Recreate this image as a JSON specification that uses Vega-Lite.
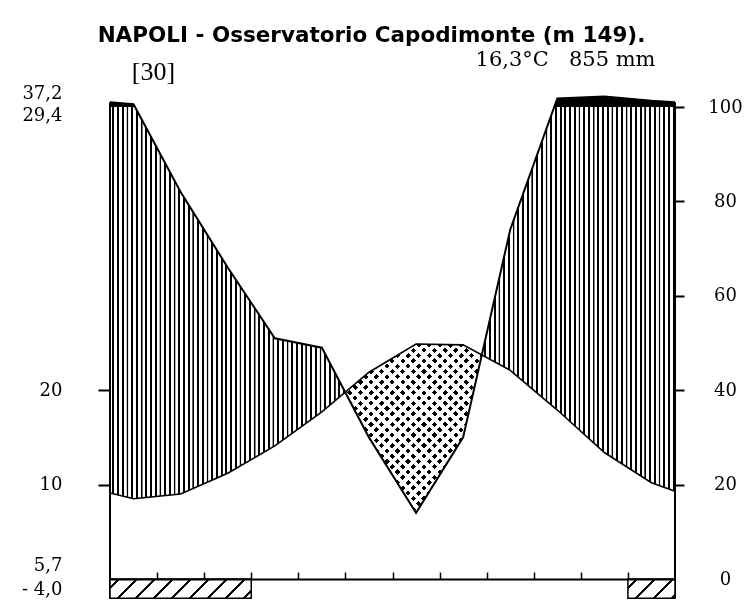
{
  "$schema": "https://vega.github.io/schema/vega-lite/v6.json",
  "width": 565,
  "height": 489,
  "autosize": "none",
  "padding": {"left": 110, "top": 90, "right": 74, "bottom": 22},
  "background": "white",
  "config": {"view": {"stroke": null}, "axis": {"grid": false}},
  "title": {"text": "NAPOLI - Osservatorio Capodimonte (m 149).", "font": "DejaVu Sans", "fontSize": 21.5, "fontWeight": "bold", "color": "black", "anchor": "middle", "frame": "group", "dx": -21, "dy": 17, "offset": 2, "baseline": "alphabetic"},
  "datasets": {
    "clima": [
      {"m": "bordo", "mese": 0.5, "t": 9.1, "p": 110},
      {"m": "gen", "mese": 1, "t": 8.5, "p": 106},
      {"m": "feb", "mese": 2, "t": 9.0, "p": 82},
      {"m": "mar", "mese": 3, "t": 11.2, "p": 66},
      {"m": "apr", "mese": 4, "t": 14.1, "p": 51},
      {"m": "mag", "mese": 5, "t": 17.7, "p": 49},
      {"m": "giu", "mese": 6, "t": 21.9, "p": 30},
      {"m": "lug", "mese": 7, "t": 24.9, "p": 14},
      {"m": "ago", "mese": 8, "t": 24.8, "p": 30},
      {"m": "set", "mese": 9, "t": 22.1, "p": 74},
      {"m": "ott", "mese": 10, "t": 17.9, "p": 118},
      {"m": "nov", "mese": 11, "t": 13.4, "p": 122},
      {"m": "dic", "mese": 12, "t": 10.2, "p": 113},
      {"m": "bordo", "mese": 12.5, "t": 9.3, "p": 110}
    ],
    "gelo": [
      {"mesi": "gen-mar", "inizio": 0.5, "fine": 3.5},
      {"mesi": "dic", "inizio": 11.5, "fine": 12.5}
    ]
  },
  "data": {"name": "clima"},
  "resolve": {"scale": {"y": "independent"}},
  "layer": [
    {
      "mark": {"type": "area", "fill": "black", "stroke": null},
      "encoding": {
        "x": {"field": "mese", "type": "quantitative", "scale": {"domain": [0.5, 12.5], "nice": false, "zero": false},
          "axis": {"orient": "bottom", "values": [1.5, 2.5, 3.5, 4.5, 5.5, 6.5, 7.5, 8.5, 9.5, 10.5, 11.5], "labels": false, "ticks": true, "tickSize": -7, "tickWidth": 1.5, "tickColor": "black", "domain": true, "domainColor": "black", "domainWidth": 2, "grid": false, "title": null, "zindex": 1}},
        "y": {"field": "p", "type": "quantitative", "scale": {"domain": [-4.449, 0, 100, 136], "range": [510, 489, 17, 0], "nice": false}, "axis": null},
        "y2": {"datum": 0}
      }
    },
    {
      "mark": {"type": "area", "fill": "white", "stroke": null, "blend": "difference"},
      "encoding": {
        "x": {"field": "mese", "type": "quantitative", "scale": {"domain": [0.5, 12.5], "nice": false, "zero": false},
          "axis": {"orient": "bottom", "values": [1.5, 2.5, 3.5, 4.5, 5.5, 6.5, 7.5, 8.5, 9.5, 10.5, 11.5], "labels": false, "ticks": true, "tickSize": -7, "tickWidth": 1.5, "tickColor": "black", "domain": true, "domainColor": "black", "domainWidth": 2, "grid": false, "title": null, "zindex": 1}},
        "y": {"field": "t", "type": "quantitative", "scale": {"domain": [-2.2246, 51.8], "range": [510, 0], "nice": false, "zero": false}, "axis": null},
        "y2": {"datum": 0}
      }
    },
    {
      "mark": {"type": "rule", "stroke": "white", "strokeWidth": 472, "strokeDash": [2.0, 2.708], "strokeCap": "butt"},
      "encoding": {
        "x": {"datum": 0.5, "type": "quantitative", "scale": {"domain": [0.5, 12.5], "nice": false, "zero": false},
          "axis": {"orient": "bottom", "values": [1.5, 2.5, 3.5, 4.5, 5.5, 6.5, 7.5, 8.5, 9.5, 10.5, 11.5], "labels": false, "ticks": true, "tickSize": -7, "tickWidth": 1.5, "tickColor": "black", "domain": true, "domainColor": "black", "domainWidth": 2, "grid": false, "title": null, "zindex": 1}},
        "x2": {"datum": 5.5},
        "y": {"datum": 25, "type": "quantitative", "scale": {"domain": [-2.2246, 51.8], "range": [510, 0], "nice": false, "zero": false}, "axis": null}
      }
    },
    {
      "mark": {"type": "rule", "stroke": "white", "strokeWidth": 472, "strokeDash": [2.0, 2.708], "strokeCap": "butt"},
      "encoding": {
        "x": {"datum": 8.4, "type": "quantitative", "scale": {"domain": [0.5, 12.5], "nice": false, "zero": false},
          "axis": {"orient": "bottom", "values": [1.5, 2.5, 3.5, 4.5, 5.5, 6.5, 7.5, 8.5, 9.5, 10.5, 11.5], "labels": false, "ticks": true, "tickSize": -7, "tickWidth": 1.5, "tickColor": "black", "domain": true, "domainColor": "black", "domainWidth": 2, "grid": false, "title": null, "zindex": 1}},
        "x2": {"datum": 12.5},
        "y": {"datum": 25, "type": "quantitative", "scale": {"domain": [-2.2246, 51.8], "range": [510, 0], "nice": false, "zero": false}, "axis": null}
      }
    },
    {
      "transform": [{"filter": "datum.mese >= 5 && datum.mese <= 9"}],
      "mark": {"type": "area", "stroke": null, "blend": "lighten",
        "fill": {"gradient": "linear", "x1": 0, "y1": 0, "x2": 0.879, "y2": 1.097, "stops": [
          {"offset": 0, "color": "#000"}, {"offset": 0.0125, "color": "#000"}, {"offset": 0.0125, "color": "#fff"}, {"offset": 0.025, "color": "#fff"},
          {"offset": 0.025, "color": "#000"}, {"offset": 0.0375, "color": "#000"}, {"offset": 0.0375, "color": "#fff"}, {"offset": 0.05, "color": "#fff"},
          {"offset": 0.05, "color": "#000"}, {"offset": 0.0625, "color": "#000"}, {"offset": 0.0625, "color": "#fff"}, {"offset": 0.075, "color": "#fff"},
          {"offset": 0.075, "color": "#000"}, {"offset": 0.0875, "color": "#000"}, {"offset": 0.0875, "color": "#fff"}, {"offset": 0.1, "color": "#fff"},
          {"offset": 0.1, "color": "#000"}, {"offset": 0.1125, "color": "#000"}, {"offset": 0.1125, "color": "#fff"}, {"offset": 0.125, "color": "#fff"},
          {"offset": 0.125, "color": "#000"}, {"offset": 0.1375, "color": "#000"}, {"offset": 0.1375, "color": "#fff"}, {"offset": 0.15, "color": "#fff"},
          {"offset": 0.15, "color": "#000"}, {"offset": 0.1625, "color": "#000"}, {"offset": 0.1625, "color": "#fff"}, {"offset": 0.175, "color": "#fff"},
          {"offset": 0.175, "color": "#000"}, {"offset": 0.1875, "color": "#000"}, {"offset": 0.1875, "color": "#fff"}, {"offset": 0.2, "color": "#fff"},
          {"offset": 0.2, "color": "#000"}, {"offset": 0.2125, "color": "#000"}, {"offset": 0.2125, "color": "#fff"}, {"offset": 0.225, "color": "#fff"},
          {"offset": 0.225, "color": "#000"}, {"offset": 0.2375, "color": "#000"}, {"offset": 0.2375, "color": "#fff"}, {"offset": 0.25, "color": "#fff"},
          {"offset": 0.25, "color": "#000"}, {"offset": 0.2625, "color": "#000"}, {"offset": 0.2625, "color": "#fff"}, {"offset": 0.275, "color": "#fff"},
          {"offset": 0.275, "color": "#000"}, {"offset": 0.2875, "color": "#000"}, {"offset": 0.2875, "color": "#fff"}, {"offset": 0.3, "color": "#fff"},
          {"offset": 0.3, "color": "#000"}, {"offset": 0.3125, "color": "#000"}, {"offset": 0.3125, "color": "#fff"}, {"offset": 0.325, "color": "#fff"},
          {"offset": 0.325, "color": "#000"}, {"offset": 0.3375, "color": "#000"}, {"offset": 0.3375, "color": "#fff"}, {"offset": 0.35, "color": "#fff"},
          {"offset": 0.35, "color": "#000"}, {"offset": 0.3625, "color": "#000"}, {"offset": 0.3625, "color": "#fff"}, {"offset": 0.375, "color": "#fff"},
          {"offset": 0.375, "color": "#000"}, {"offset": 0.3875, "color": "#000"}, {"offset": 0.3875, "color": "#fff"}, {"offset": 0.4, "color": "#fff"},
          {"offset": 0.4, "color": "#000"}, {"offset": 0.4125, "color": "#000"}, {"offset": 0.4125, "color": "#fff"}, {"offset": 0.425, "color": "#fff"},
          {"offset": 0.425, "color": "#000"}, {"offset": 0.4375, "color": "#000"}, {"offset": 0.4375, "color": "#fff"}, {"offset": 0.45, "color": "#fff"},
          {"offset": 0.45, "color": "#000"}, {"offset": 0.4625, "color": "#000"}, {"offset": 0.4625, "color": "#fff"}, {"offset": 0.475, "color": "#fff"},
          {"offset": 0.475, "color": "#000"}, {"offset": 0.4875, "color": "#000"}, {"offset": 0.4875, "color": "#fff"}, {"offset": 0.5, "color": "#fff"},
          {"offset": 0.5, "color": "#000"}, {"offset": 0.5125, "color": "#000"}, {"offset": 0.5125, "color": "#fff"}, {"offset": 0.525, "color": "#fff"},
          {"offset": 0.525, "color": "#000"}, {"offset": 0.5375, "color": "#000"}, {"offset": 0.5375, "color": "#fff"}, {"offset": 0.55, "color": "#fff"},
          {"offset": 0.55, "color": "#000"}, {"offset": 0.5625, "color": "#000"}, {"offset": 0.5625, "color": "#fff"}, {"offset": 0.575, "color": "#fff"},
          {"offset": 0.575, "color": "#000"}, {"offset": 0.5875, "color": "#000"}, {"offset": 0.5875, "color": "#fff"}, {"offset": 0.6, "color": "#fff"},
          {"offset": 0.6, "color": "#000"}, {"offset": 0.6125, "color": "#000"}, {"offset": 0.6125, "color": "#fff"}, {"offset": 0.625, "color": "#fff"},
          {"offset": 0.625, "color": "#000"}, {"offset": 0.6375, "color": "#000"}, {"offset": 0.6375, "color": "#fff"}, {"offset": 0.65, "color": "#fff"},
          {"offset": 0.65, "color": "#000"}, {"offset": 0.6625, "color": "#000"}, {"offset": 0.6625, "color": "#fff"}, {"offset": 0.675, "color": "#fff"},
          {"offset": 0.675, "color": "#000"}, {"offset": 0.6875, "color": "#000"}, {"offset": 0.6875, "color": "#fff"}, {"offset": 0.7, "color": "#fff"},
          {"offset": 0.7, "color": "#000"}, {"offset": 0.7125, "color": "#000"}, {"offset": 0.7125, "color": "#fff"}, {"offset": 0.725, "color": "#fff"},
          {"offset": 0.725, "color": "#000"}, {"offset": 0.7375, "color": "#000"}, {"offset": 0.7375, "color": "#fff"}, {"offset": 0.75, "color": "#fff"},
          {"offset": 0.75, "color": "#000"}, {"offset": 0.7625, "color": "#000"}, {"offset": 0.7625, "color": "#fff"}, {"offset": 0.775, "color": "#fff"},
          {"offset": 0.775, "color": "#000"}, {"offset": 0.7875, "color": "#000"}, {"offset": 0.7875, "color": "#fff"}, {"offset": 0.8, "color": "#fff"},
          {"offset": 0.8, "color": "#000"}, {"offset": 0.8125, "color": "#000"}, {"offset": 0.8125, "color": "#fff"}, {"offset": 0.825, "color": "#fff"},
          {"offset": 0.825, "color": "#000"}, {"offset": 0.8375, "color": "#000"}, {"offset": 0.8375, "color": "#fff"}, {"offset": 0.85, "color": "#fff"},
          {"offset": 0.85, "color": "#000"}, {"offset": 0.8625, "color": "#000"}, {"offset": 0.8625, "color": "#fff"}, {"offset": 0.875, "color": "#fff"},
          {"offset": 0.875, "color": "#000"}, {"offset": 0.8875, "color": "#000"}, {"offset": 0.8875, "color": "#fff"}, {"offset": 0.9, "color": "#fff"},
          {"offset": 0.9, "color": "#000"}, {"offset": 0.9125, "color": "#000"}, {"offset": 0.9125, "color": "#fff"}, {"offset": 0.925, "color": "#fff"},
          {"offset": 0.925, "color": "#000"}, {"offset": 0.9375, "color": "#000"}, {"offset": 0.9375, "color": "#fff"}, {"offset": 0.95, "color": "#fff"},
          {"offset": 0.95, "color": "#000"}, {"offset": 0.9625, "color": "#000"}, {"offset": 0.9625, "color": "#fff"}, {"offset": 0.975, "color": "#fff"},
          {"offset": 0.975, "color": "#000"}, {"offset": 0.9875, "color": "#000"}, {"offset": 0.9875, "color": "#fff"}, {"offset": 1, "color": "#fff"}
        ]}},
      "encoding": {
        "x": {"field": "mese", "type": "quantitative", "scale": {"domain": [0.5, 12.5], "nice": false, "zero": false},
          "axis": {"orient": "bottom", "values": [1.5, 2.5, 3.5, 4.5, 5.5, 6.5, 7.5, 8.5, 9.5, 10.5, 11.5], "labels": false, "ticks": true, "tickSize": -7, "tickWidth": 1.5, "tickColor": "black", "domain": true, "domainColor": "black", "domainWidth": 2, "grid": false, "title": null, "zindex": 1}},
        "y": {"field": "t", "type": "quantitative", "scale": {"domain": [-2.2246, 51.8], "range": [510, 0], "nice": false, "zero": false}, "axis": null},
        "y2": {"datum": 0}
      }
    },
    {
      "transform": [{"filter": "datum.mese >= 5 && datum.mese <= 9"}],
      "mark": {"type": "area", "stroke": null, "blend": "lighten",
        "fill": {"gradient": "linear", "x1": 0, "y1": 1, "x2": 0.879, "y2": -0.097, "stops": [
          {"offset": 0, "color": "#000"}, {"offset": 0.0125, "color": "#000"}, {"offset": 0.0125, "color": "#fff"}, {"offset": 0.025, "color": "#fff"},
          {"offset": 0.025, "color": "#000"}, {"offset": 0.0375, "color": "#000"}, {"offset": 0.0375, "color": "#fff"}, {"offset": 0.05, "color": "#fff"},
          {"offset": 0.05, "color": "#000"}, {"offset": 0.0625, "color": "#000"}, {"offset": 0.0625, "color": "#fff"}, {"offset": 0.075, "color": "#fff"},
          {"offset": 0.075, "color": "#000"}, {"offset": 0.0875, "color": "#000"}, {"offset": 0.0875, "color": "#fff"}, {"offset": 0.1, "color": "#fff"},
          {"offset": 0.1, "color": "#000"}, {"offset": 0.1125, "color": "#000"}, {"offset": 0.1125, "color": "#fff"}, {"offset": 0.125, "color": "#fff"},
          {"offset": 0.125, "color": "#000"}, {"offset": 0.1375, "color": "#000"}, {"offset": 0.1375, "color": "#fff"}, {"offset": 0.15, "color": "#fff"},
          {"offset": 0.15, "color": "#000"}, {"offset": 0.1625, "color": "#000"}, {"offset": 0.1625, "color": "#fff"}, {"offset": 0.175, "color": "#fff"},
          {"offset": 0.175, "color": "#000"}, {"offset": 0.1875, "color": "#000"}, {"offset": 0.1875, "color": "#fff"}, {"offset": 0.2, "color": "#fff"},
          {"offset": 0.2, "color": "#000"}, {"offset": 0.2125, "color": "#000"}, {"offset": 0.2125, "color": "#fff"}, {"offset": 0.225, "color": "#fff"},
          {"offset": 0.225, "color": "#000"}, {"offset": 0.2375, "color": "#000"}, {"offset": 0.2375, "color": "#fff"}, {"offset": 0.25, "color": "#fff"},
          {"offset": 0.25, "color": "#000"}, {"offset": 0.2625, "color": "#000"}, {"offset": 0.2625, "color": "#fff"}, {"offset": 0.275, "color": "#fff"},
          {"offset": 0.275, "color": "#000"}, {"offset": 0.2875, "color": "#000"}, {"offset": 0.2875, "color": "#fff"}, {"offset": 0.3, "color": "#fff"},
          {"offset": 0.3, "color": "#000"}, {"offset": 0.3125, "color": "#000"}, {"offset": 0.3125, "color": "#fff"}, {"offset": 0.325, "color": "#fff"},
          {"offset": 0.325, "color": "#000"}, {"offset": 0.3375, "color": "#000"}, {"offset": 0.3375, "color": "#fff"}, {"offset": 0.35, "color": "#fff"},
          {"offset": 0.35, "color": "#000"}, {"offset": 0.3625, "color": "#000"}, {"offset": 0.3625, "color": "#fff"}, {"offset": 0.375, "color": "#fff"},
          {"offset": 0.375, "color": "#000"}, {"offset": 0.3875, "color": "#000"}, {"offset": 0.3875, "color": "#fff"}, {"offset": 0.4, "color": "#fff"},
          {"offset": 0.4, "color": "#000"}, {"offset": 0.4125, "color": "#000"}, {"offset": 0.4125, "color": "#fff"}, {"offset": 0.425, "color": "#fff"},
          {"offset": 0.425, "color": "#000"}, {"offset": 0.4375, "color": "#000"}, {"offset": 0.4375, "color": "#fff"}, {"offset": 0.45, "color": "#fff"},
          {"offset": 0.45, "color": "#000"}, {"offset": 0.4625, "color": "#000"}, {"offset": 0.4625, "color": "#fff"}, {"offset": 0.475, "color": "#fff"},
          {"offset": 0.475, "color": "#000"}, {"offset": 0.4875, "color": "#000"}, {"offset": 0.4875, "color": "#fff"}, {"offset": 0.5, "color": "#fff"},
          {"offset": 0.5, "color": "#000"}, {"offset": 0.5125, "color": "#000"}, {"offset": 0.5125, "color": "#fff"}, {"offset": 0.525, "color": "#fff"},
          {"offset": 0.525, "color": "#000"}, {"offset": 0.5375, "color": "#000"}, {"offset": 0.5375, "color": "#fff"}, {"offset": 0.55, "color": "#fff"},
          {"offset": 0.55, "color": "#000"}, {"offset": 0.5625, "color": "#000"}, {"offset": 0.5625, "color": "#fff"}, {"offset": 0.575, "color": "#fff"},
          {"offset": 0.575, "color": "#000"}, {"offset": 0.5875, "color": "#000"}, {"offset": 0.5875, "color": "#fff"}, {"offset": 0.6, "color": "#fff"},
          {"offset": 0.6, "color": "#000"}, {"offset": 0.6125, "color": "#000"}, {"offset": 0.6125, "color": "#fff"}, {"offset": 0.625, "color": "#fff"},
          {"offset": 0.625, "color": "#000"}, {"offset": 0.6375, "color": "#000"}, {"offset": 0.6375, "color": "#fff"}, {"offset": 0.65, "color": "#fff"},
          {"offset": 0.65, "color": "#000"}, {"offset": 0.6625, "color": "#000"}, {"offset": 0.6625, "color": "#fff"}, {"offset": 0.675, "color": "#fff"},
          {"offset": 0.675, "color": "#000"}, {"offset": 0.6875, "color": "#000"}, {"offset": 0.6875, "color": "#fff"}, {"offset": 0.7, "color": "#fff"},
          {"offset": 0.7, "color": "#000"}, {"offset": 0.7125, "color": "#000"}, {"offset": 0.7125, "color": "#fff"}, {"offset": 0.725, "color": "#fff"},
          {"offset": 0.725, "color": "#000"}, {"offset": 0.7375, "color": "#000"}, {"offset": 0.7375, "color": "#fff"}, {"offset": 0.75, "color": "#fff"},
          {"offset": 0.75, "color": "#000"}, {"offset": 0.7625, "color": "#000"}, {"offset": 0.7625, "color": "#fff"}, {"offset": 0.775, "color": "#fff"},
          {"offset": 0.775, "color": "#000"}, {"offset": 0.7875, "color": "#000"}, {"offset": 0.7875, "color": "#fff"}, {"offset": 0.8, "color": "#fff"},
          {"offset": 0.8, "color": "#000"}, {"offset": 0.8125, "color": "#000"}, {"offset": 0.8125, "color": "#fff"}, {"offset": 0.825, "color": "#fff"},
          {"offset": 0.825, "color": "#000"}, {"offset": 0.8375, "color": "#000"}, {"offset": 0.8375, "color": "#fff"}, {"offset": 0.85, "color": "#fff"},
          {"offset": 0.85, "color": "#000"}, {"offset": 0.8625, "color": "#000"}, {"offset": 0.8625, "color": "#fff"}, {"offset": 0.875, "color": "#fff"},
          {"offset": 0.875, "color": "#000"}, {"offset": 0.8875, "color": "#000"}, {"offset": 0.8875, "color": "#fff"}, {"offset": 0.9, "color": "#fff"},
          {"offset": 0.9, "color": "#000"}, {"offset": 0.9125, "color": "#000"}, {"offset": 0.9125, "color": "#fff"}, {"offset": 0.925, "color": "#fff"},
          {"offset": 0.925, "color": "#000"}, {"offset": 0.9375, "color": "#000"}, {"offset": 0.9375, "color": "#fff"}, {"offset": 0.95, "color": "#fff"},
          {"offset": 0.95, "color": "#000"}, {"offset": 0.9625, "color": "#000"}, {"offset": 0.9625, "color": "#fff"}, {"offset": 0.975, "color": "#fff"},
          {"offset": 0.975, "color": "#000"}, {"offset": 0.9875, "color": "#000"}, {"offset": 0.9875, "color": "#fff"}, {"offset": 1, "color": "#fff"}
        ]}},
      "encoding": {
        "x": {"field": "mese", "type": "quantitative", "scale": {"domain": [0.5, 12.5], "nice": false, "zero": false},
          "axis": {"orient": "bottom", "values": [1.5, 2.5, 3.5, 4.5, 5.5, 6.5, 7.5, 8.5, 9.5, 10.5, 11.5], "labels": false, "ticks": true, "tickSize": -7, "tickWidth": 1.5, "tickColor": "black", "domain": true, "domainColor": "black", "domainWidth": 2, "grid": false, "title": null, "zindex": 1}},
        "y": {"field": "t", "type": "quantitative", "scale": {"domain": [-2.2246, 51.8], "range": [510, 0], "nice": false, "zero": false}, "axis": null},
        "y2": {"datum": 0}
      }
    },
    {
      "transform": [{"filter": "datum.mese < 1 || datum.mese > 12"}],
      "mark": {"type": "rule", "stroke": "black", "strokeWidth": 2},
      "encoding": {
        "x": {"field": "mese", "type": "quantitative", "scale": {"domain": [0.5, 12.5], "nice": false, "zero": false},
          "axis": {"orient": "bottom", "values": [1.5, 2.5, 3.5, 4.5, 5.5, 6.5, 7.5, 8.5, 9.5, 10.5, 11.5], "labels": false, "ticks": true, "tickSize": -7, "tickWidth": 1.5, "tickColor": "black", "domain": true, "domainColor": "black", "domainWidth": 2, "grid": false, "title": null, "zindex": 1}},
        "y": {"field": "p", "type": "quantitative", "scale": {"domain": [-4.449, 0, 100, 136], "range": [510, 489, 17, 0], "nice": false}, "axis": null},
        "y2": {"datum": -4.1}
      }
    },
    {
      "mark": {"type": "line", "stroke": "black", "strokeWidth": 2},
      "encoding": {
        "x": {"field": "mese", "type": "quantitative", "scale": {"domain": [0.5, 12.5], "nice": false, "zero": false},
          "axis": {"orient": "bottom", "values": [1.5, 2.5, 3.5, 4.5, 5.5, 6.5, 7.5, 8.5, 9.5, 10.5, 11.5], "labels": false, "ticks": true, "tickSize": -7, "tickWidth": 1.5, "tickColor": "black", "domain": true, "domainColor": "black", "domainWidth": 2, "grid": false, "title": null, "zindex": 1}},
        "y": {"field": "p", "type": "quantitative", "scale": {"domain": [-4.449, 0, 100, 136], "range": [510, 489, 17, 0], "nice": false},
          "axis": {"orient": "right", "values": [0, 20, 40, 60, 80, 100], "domain": false, "grid": false, "tickSize": 9, "tickWidth": 2, "tickColor": "black",
            "tickOpacity": {"condition": {"test": "datum.value == 0", "value": 0}, "value": 1},
            "labelFont": "DejaVu Serif", "labelFontSize": 18, "labelColor": "black", "labelAlign": "center", "labelBaseline": "middle", "labelPadding": 41, "labelFlush": false, "labelOverlap": false,
            "title": "16,3°C\u00a0\u00a0\u00a0855 mm", "titleAngle": 0, "titleX": -20, "titleY": -25, "titleAlign": "right", "titleBaseline": "alphabetic", "titleFont": "DejaVu Serif", "titleFontSize": 21, "titleFontWeight": "normal", "titleColor": "black", "zindex": 1}}
      }
    },
    {
      "mark": {"type": "line", "stroke": "black", "strokeWidth": 1.6},
      "encoding": {
        "x": {"field": "mese", "type": "quantitative", "scale": {"domain": [0.5, 12.5], "nice": false, "zero": false},
          "axis": {"orient": "bottom", "values": [1.5, 2.5, 3.5, 4.5, 5.5, 6.5, 7.5, 8.5, 9.5, 10.5, 11.5], "labels": false, "ticks": true, "tickSize": -7, "tickWidth": 1.5, "tickColor": "black", "domain": true, "domainColor": "black", "domainWidth": 2, "grid": false, "title": null, "zindex": 1}},
        "y": {"field": "t", "type": "quantitative", "scale": {"domain": [-2.2246, 51.8], "range": [510, 0], "nice": false, "zero": false},
          "axis": {"orient": "left", "values": [-1.06, 1.38, 10, 20, 49.05, 51.48],
            "labelExpr": "datum.value > 50 ? '37,2' : datum.value > 45 ? '29,4' : datum.value > 15 ? '20' : datum.value > 5 ? '10' : datum.value > 0 ? '5,7' : '- 4,0'",
            "domain": false, "grid": false, "tickSize": 12, "tickWidth": 2, "tickColor": "black",
            "tickOpacity": {"condition": {"test": "datum.value == 10 || datum.value == 20", "value": 1}, "value": 0},
            "labelFont": "DejaVu Serif", "labelFontSize": 18, "labelColor": "black", "labelAlign": "right", "labelBaseline": "middle", "labelPadding": 36, "labelFlush": false, "labelOverlap": false,
            "title": "[30]", "titleAngle": 0, "titleX": 43, "titleY": -19, "titleAlign": "center", "titleBaseline": "middle", "titleFont": "Liberation Serif", "titleFontSize": 26, "titleFontWeight": "normal", "titleColor": "black", "zindex": 1}}
      }
    },
    {
      "data": {"name": "gelo"},
      "transform": [{"filter": "datum.inizio < 6"}],
      "mark": {"type": "rect", "stroke": "black", "strokeWidth": 1.5,
        "fill": {"gradient": "linear", "x1": 0, "y1": 0, "x2": 1.1161, "y2": 0.1529, "stops": [
          {"offset": 0, "color": "#fff"},
          {"offset": 0.0491, "color": "#fff"}, {"offset": 0.0491, "color": "#000"}, {"offset": 0.0629, "color": "#000"}, {"offset": 0.0629, "color": "#fff"},
          {"offset": 0.1612, "color": "#fff"}, {"offset": 0.1612, "color": "#000"}, {"offset": 0.175, "color": "#000"}, {"offset": 0.175, "color": "#fff"},
          {"offset": 0.2733, "color": "#fff"}, {"offset": 0.2733, "color": "#000"}, {"offset": 0.2871, "color": "#000"}, {"offset": 0.2871, "color": "#fff"},
          {"offset": 0.3854, "color": "#fff"}, {"offset": 0.3854, "color": "#000"}, {"offset": 0.3992, "color": "#000"}, {"offset": 0.3992, "color": "#fff"},
          {"offset": 0.4975, "color": "#fff"}, {"offset": 0.4975, "color": "#000"}, {"offset": 0.5113, "color": "#000"}, {"offset": 0.5113, "color": "#fff"},
          {"offset": 0.6095, "color": "#fff"}, {"offset": 0.6095, "color": "#000"}, {"offset": 0.6233, "color": "#000"}, {"offset": 0.6233, "color": "#fff"},
          {"offset": 0.7216, "color": "#fff"}, {"offset": 0.7216, "color": "#000"}, {"offset": 0.7354, "color": "#000"}, {"offset": 0.7354, "color": "#fff"},
          {"offset": 0.8337, "color": "#fff"}, {"offset": 0.8337, "color": "#000"}, {"offset": 0.8475, "color": "#000"}, {"offset": 0.8475, "color": "#fff"},
          {"offset": 0.9458, "color": "#fff"}, {"offset": 0.9458, "color": "#000"}, {"offset": 0.9596, "color": "#000"}, {"offset": 0.9596, "color": "#fff"},
          {"offset": 1, "color": "#fff"}
        ]}},
      "encoding": {
        "x": {"field": "inizio", "type": "quantitative", "scale": {"domain": [0.5, 12.5], "nice": false, "zero": false},
          "axis": {"orient": "bottom", "values": [1.5, 2.5, 3.5, 4.5, 5.5, 6.5, 7.5, 8.5, 9.5, 10.5, 11.5], "labels": false, "ticks": true, "tickSize": -7, "tickWidth": 1.5, "tickColor": "black", "domain": true, "domainColor": "black", "domainWidth": 2, "grid": false, "title": null, "zindex": 1}},
        "x2": {"field": "fine"},
        "y": {"datum": 0, "type": "quantitative", "scale": {"domain": [-4.449, 0, 100, 136], "range": [510, 489, 17, 0], "nice": false}, "axis": null},
        "y2": {"datum": -4.1}
      }
    },
    {
      "data": {"name": "gelo"},
      "transform": [{"filter": "datum.inizio > 6"}],
      "mark": {"type": "rect", "stroke": "black", "strokeWidth": 1.5,
        "fill": {"gradient": "linear", "x1": 0, "y1": 0, "x2": 1.2071, "y2": 0.4961, "stops": [
          {"offset": 0, "color": "#fff"},
          {"offset": 0.1189, "color": "#fff"}, {"offset": 0.1189, "color": "#000"}, {"offset": 0.1521, "color": "#000"}, {"offset": 0.1521, "color": "#fff"},
          {"offset": 0.3898, "color": "#fff"}, {"offset": 0.3898, "color": "#000"}, {"offset": 0.423, "color": "#000"}, {"offset": 0.423, "color": "#fff"},
          {"offset": 0.6608, "color": "#fff"}, {"offset": 0.6608, "color": "#000"}, {"offset": 0.694, "color": "#000"}, {"offset": 0.694, "color": "#fff"},
          {"offset": 0.9318, "color": "#fff"}, {"offset": 0.9318, "color": "#000"}, {"offset": 0.965, "color": "#000"}, {"offset": 0.965, "color": "#fff"},
          {"offset": 1, "color": "#fff"}
        ]}},
      "encoding": {
        "x": {"field": "inizio", "type": "quantitative", "scale": {"domain": [0.5, 12.5], "nice": false, "zero": false},
          "axis": {"orient": "bottom", "values": [1.5, 2.5, 3.5, 4.5, 5.5, 6.5, 7.5, 8.5, 9.5, 10.5, 11.5], "labels": false, "ticks": true, "tickSize": -7, "tickWidth": 1.5, "tickColor": "black", "domain": true, "domainColor": "black", "domainWidth": 2, "grid": false, "title": null, "zindex": 1}},
        "x2": {"field": "fine"},
        "y": {"datum": 0, "type": "quantitative", "scale": {"domain": [-4.449, 0, 100, 136], "range": [510, 489, 17, 0], "nice": false}, "axis": null},
        "y2": {"datum": -4.1}
      }
    }
  ]
}
